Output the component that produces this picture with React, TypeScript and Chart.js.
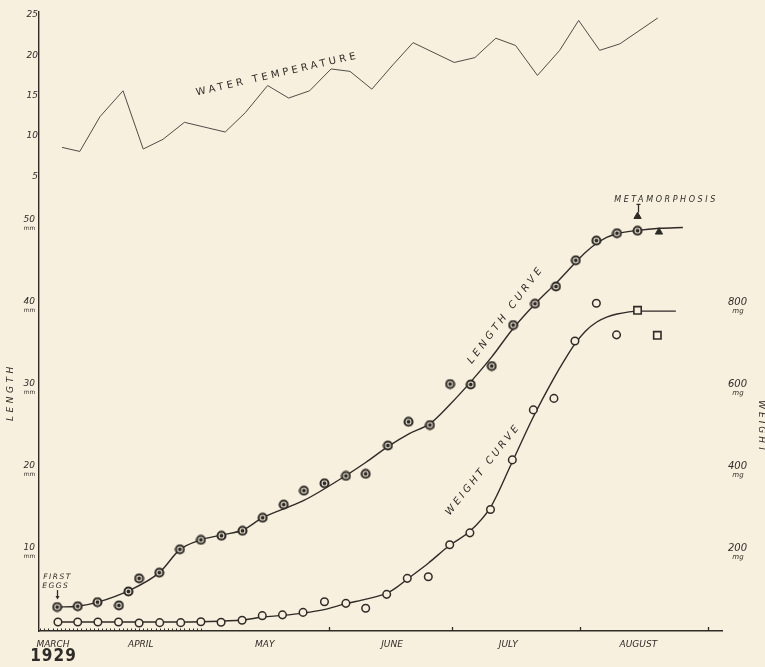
import React, { useEffect, useRef } from 'react';
import { Chart, registerables } from 'chart.js';

Chart.register(...registerables);

const BG = '#f8f0df';
const INK = '#2f2b27';
const TEMP_INK = '#514c47';

// x values are day-of-year 1929 (Apr 1 = 91, May 1 = 121, Jun 1 = 152 ...)
const X_MIN = 81.7;
const X_MAX = 247.5;
const MONTH_LABELS = ['MARCH', 'APRIL', 'MAY', 'JUNE', 'JULY', 'AUGUST'];
const MONTH_LABEL_DAYS = [85.1, 106.4, 136.5, 167.4, 195.6, 227.2];
const MONTH_TICK_DAYS = [152, 182, 213, 244];
const DAY_TICK_FIRST = 82;
const DAY_TICK_LAST = 121;

// axis ranges
const TEMP_MIN = -51.19;
const TEMP_MAX = 25.34;
const LENGTH_MIN = -0.12;
const LENGTH_MAX = 75.38;
const WEIGHT_MIN = -2.4;
const WEIGHT_MAX = 1507.6;

const TEMP_TICKS = [5, 10, 15, 20, 25];
const LENGTH_TICKS = [10, 20, 30, 40, 50];
const WEIGHT_TICKS = [200, 400, 600, 800];

// water temperature (°C)
const TEMP_DAYS = [87.3, 91.6, 96.5, 102.1, 107.0, 111.8, 117.0, 126.9, 131.8, 137.2, 142.3, 147.4, 152.6, 157.2, 162.5, 167.6, 172.5, 182.5, 187.5, 192.6, 197.4, 202.7, 208.1, 212.7, 217.8, 222.7, 231.9];
const TEMP_VALUES = [8.6, 8.1, 12.4, 15.6, 8.4, 9.6, 11.7, 10.5, 12.9, 16.25, 14.7, 15.6, 18.3, 18.0, 15.8, 18.8, 21.55, 19.1, 19.7, 22.1, 21.2, 17.5, 20.6, 24.3, 20.6, 21.4, 24.6];

// length observations (mm)
const LENGTH_DAYS = [86.1, 91.1, 95.9, 101.1, 103.4, 106.0, 110.9, 115.9, 121.0, 126.0, 131.1, 136.0, 141.1, 146.0, 151.0, 156.2, 161.0, 166.4, 171.4, 176.6, 181.5, 186.5, 191.6, 196.8, 202.1, 207.2, 212.0, 217.0, 222.0, 227.0];
const LENGTH_VALUES = [2.8, 2.9, 3.4, 3.0, 4.7, 6.3, 7.0, 9.85, 11.0, 11.5, 12.1, 13.7, 15.3, 17.0, 17.9, 18.8, 19.05, 22.5, 25.4, 25.0, 30.0, 29.95, 32.2, 37.2, 39.8, 41.9, 45.1, 47.5, 48.4, 48.7];

// weight observations (mg)
const WEIGHT_DAYS = [86.3, 91.1, 96.0, 101.0, 106.0, 111.0, 116.1, 121.0, 125.9, 131.0, 135.9, 140.8, 145.8, 151.0, 156.2, 161.0, 166.1, 171.1, 176.2, 181.4, 186.3, 191.3, 196.6, 201.7, 206.7, 211.8, 217.0, 221.9];
const WEIGHT_VALUES = [19.5, 19.5, 19.5, 19.5, 17, 18, 18, 20, 19, 24, 35, 37, 43, 69, 65, 53, 87, 126, 130, 208, 237, 294, 415, 537, 565, 705, 797, 720];

// weight (square markers)
const SQUARE_DAYS = [227.0, 231.8];
const SQUARE_VALUES = [780, 719];

// metamorphosis triangles (length axis)
const TRIANGLE_DAYS = [227.0, 232.2];
const TRIANGLE_VALUES = [50.45, 48.55];

// fitted curves
const LENGTH_CURVE_DAYS = [86.0, 91.1, 96.0, 103.5, 110.9, 115.9, 121.0, 126.1, 131.2, 136.0, 146.0, 156.2, 161.0, 166.4, 171.6, 176.6, 181.4, 186.5, 191.6, 196.7, 202.1, 207.2, 212.0, 214.4, 217.1, 219.5, 222.0, 227.1, 232.4, 238.0];
const LENGTH_CURVE_VALUES = [2.8, 2.9, 3.4, 4.8, 7.0, 9.8, 11.0, 11.6, 12.2, 13.7, 15.8, 18.84, 20.43, 22.37, 23.95, 25.17, 27.48, 30.27, 33.31, 36.72, 39.76, 42.31, 44.86, 46.08, 47.17, 47.9, 48.33, 48.75, 49.0, 49.1];

const WEIGHT_CURVE_DAYS = [86.0, 96.0, 106.0, 116.0, 121.0, 131.0, 136.0, 140.9, 145.8, 150.9, 156.2, 161.1, 166.2, 168.6, 171.1, 176.2, 181.4, 186.3, 191.3, 196.4, 201.6, 206.6, 209.3, 211.8, 214.4, 217.1, 219.5, 222.0, 227.1, 236.3];
const WEIGHT_CURVE_VALUES = [19.5, 19.5, 19.5, 19.5, 20.2, 24.3, 31.6, 35.7, 41.3, 49.8, 64.4, 75.4, 90, 104.6, 124, 163, 206.7, 240.7, 299.1, 406.1, 517.9, 612.8, 659, 698, 729.5, 751.4, 763.5, 770.8, 778, 778];

const FONT = '"DejaVu Sans", sans-serif';

function pts(xs: number[], ys: number[]) {
  return xs.map((x, i) => ({ x, y: ys[i] }));
}

function drawText(ctx: any, text: string, px: number, py: number, o: any = {}) {
  ctx.save();
  ctx.translate(px, py);
  if (o.angle) ctx.rotate((o.angle * Math.PI) / 180);
  ctx.font = o.font || `italic 9px ${FONT}`;
  const sp = o.spacing || 0;
  ctx.letterSpacing = sp + 'px';
  ctx.fillStyle = o.color || INK;
  ctx.textAlign = o.align || 'center';
  ctx.textBaseline = 'middle';
  const shift = (o.align || 'center') === 'center' ? sp / 2 : 0;
  ctx.fillText(text, shift, 0);
  ctx.restore();
}

function makeBullseye(): HTMLCanvasElement {
  const c = document.createElement('canvas');
  c.width = 11;
  c.height = 11;
  const g = c.getContext('2d') as CanvasRenderingContext2D;
  g.beginPath();
  g.arc(5.5, 5.5, 4.0, 0, Math.PI * 2);
  g.fillStyle = BG;
  g.fill();
  g.lineWidth = 2.1;
  g.strokeStyle = INK;
  g.stroke();
  g.beginPath();
  g.arc(5.5, 5.5, 1.9, 0, Math.PI * 2);
  g.fillStyle = INK;
  g.fill();
  return c;
}

const decorPlugin = {
  id: 'decor',
  beforeDraw(chart: any) {
    const { ctx, width, height } = chart;
    ctx.save();
    ctx.fillStyle = BG;
    ctx.fillRect(0, 0, width, height);
    ctx.restore();
  },
  afterDraw(chart: any) {
    const { ctx, chartArea } = chart;
    const { x, yT, yL, yW } = chart.scales;
    const base = chartArea.bottom;
    ctx.save();
    ctx.strokeStyle = INK;
    ctx.fillStyle = INK;
    ctx.lineWidth = 1;
    // daily tick marks (March–April) and month boundary ticks
    for (let d = DAY_TICK_FIRST; d <= DAY_TICK_LAST; d += 1) {
      const px = Math.round(x.getPixelForValue(d)) + 0.5;
      ctx.beginPath();
      ctx.moveTo(px, base);
      ctx.lineTo(px, base - 2.5);
      ctx.stroke();
    }
    ctx.lineWidth = 1.3;
    for (const d of MONTH_TICK_DAYS) {
      const px = Math.round(x.getPixelForValue(d)) + 0.5;
      ctx.beginPath();
      ctx.moveTo(px, base);
      ctx.lineTo(px, base - 4);
      ctx.stroke();
    }
    // temperature scale labels
    for (const v of TEMP_TICKS) {
      drawText(ctx, String(v), 38, yT.getPixelForValue(v), { font: `italic 9px ${FONT}`, align: 'right' });
    }
    // unit labels
    for (const v of LENGTH_TICKS) {
      drawText(ctx, 'mm', 29.5, yL.getPixelForValue(v) + 8.5, { font: `6px ${FONT}` });
    }
    for (const v of WEIGHT_TICKS) {
      drawText(ctx, 'mg', 738, yW.getPixelForValue(v) + 9.5, { font: `italic 7px ${FONT}` });
    }
    // axis titles
    drawText(ctx, 'LENGTH', 11, yL.getPixelForValue(28.8), { angle: -90, font: `italic 9px ${FONT}`, spacing: 3.5 });
    drawText(ctx, 'WEIGHT', 761, yW.getPixelForValue(498), { angle: 90, font: `italic 9px ${FONT}`, spacing: 3 });
    // captions
    drawText(ctx, 'WATER TEMPERATURE', x.getPixelForValue(139.2), yT.getPixelForValue(17.6), { angle: -13, font: `10px ${FONT}`, spacing: 3.3 });
    drawText(ctx, 'LENGTH CURVE', x.getPixelForValue(194.8), yL.getPixelForValue(38.3), { angle: -53, font: `italic 10px ${FONT}`, spacing: 3.5 });
    drawText(ctx, 'WEIGHT CURVE', x.getPixelForValue(189.3), yW.getPixelForValue(389), { angle: -51.5, font: `italic 10px ${FONT}`, spacing: 3 });
    drawText(ctx, 'METAMORPHOSIS', x.getPixelForValue(233.6), yL.getPixelForValue(52.4), { font: `italic 8px ${FONT}`, spacing: 2.6 });
    drawText(ctx, 'FIRST', x.getPixelForValue(86.0), yL.getPixelForValue(6.45), { font: `italic 7.5px ${FONT}`, spacing: 1.5 });
    drawText(ctx, 'EGGS', x.getPixelForValue(85.6), yL.getPixelForValue(5.35), { font: `italic 7.5px ${FONT}`, spacing: 1.5 });
    drawText(ctx, '1929', x.getPixelForValue(85.1), base + 26, { font: `bold 17px "Liberation Sans Narrow", "DejaVu Sans Condensed", sans-serif`, spacing: 1 });
    // FIRST EGGS arrow
    const ax = Math.round(x.getPixelForValue(LENGTH_DAYS[0])) + 0.5;
    const ay = yL.getPixelForValue(LENGTH_VALUES[0]);
    ctx.lineWidth = 1.3;
    ctx.beginPath();
    ctx.moveTo(ax, ay - 17);
    ctx.lineTo(ax, ay - 10);
    ctx.stroke();
    ctx.beginPath();
    ctx.moveTo(ax - 2, ay - 11);
    ctx.lineTo(ax + 2, ay - 11);
    ctx.lineTo(ax, ay - 7.5);
    ctx.closePath();
    ctx.fill();
    // metamorphosis pointer
    const mx = Math.round(x.getPixelForValue(TRIANGLE_DAYS[0])) + 0.5;
    const my = yL.getPixelForValue(TRIANGLE_VALUES[0]);
    ctx.beginPath();
    ctx.moveTo(mx, my - 12);
    ctx.lineTo(mx, my - 4);
    ctx.moveTo(mx - 2, my - 12);
    ctx.lineTo(mx + 2, my - 12);
    ctx.stroke();
    ctx.restore();
  },
};

export default function App() {
  const ref = useRef<HTMLCanvasElement>(null);
  useEffect(() => {
    const canvas = ref.current;
    if (!canvas) return;
    const bullseye = makeBullseye();
    const tickFont = { family: '"DejaVu Sans", sans-serif', size: 9, style: 'italic' as const };
    const chart = new Chart(canvas, {
      type: 'line',
      data: {
        datasets: [
          {
            label: 'Length',
            data: pts(LENGTH_DAYS, LENGTH_VALUES),
            yAxisID: 'yL',
            showLine: false,
            pointStyle: bullseye as any,
            pointRadius: 4.5,
            order: 0,
          },
          {
            label: 'Weight',
            data: pts(WEIGHT_DAYS, WEIGHT_VALUES),
            yAxisID: 'yW',
            showLine: false,
            pointStyle: 'circle',
            pointRadius: 3.8,
            pointBorderWidth: 1.5,
            pointBorderColor: INK,
            pointBackgroundColor: BG,
            order: 0,
          },
          {
            label: 'Weight (square)',
            data: pts(SQUARE_DAYS, SQUARE_VALUES),
            yAxisID: 'yW',
            showLine: false,
            pointStyle: 'rect',
            pointRadius: 5.2,
            pointBorderWidth: 1.6,
            pointBorderColor: INK,
            pointBackgroundColor: BG,
            order: 0,
          },
          {
            label: 'Metamorphosis',
            data: pts(TRIANGLE_DAYS, TRIANGLE_VALUES),
            yAxisID: 'yL',
            showLine: false,
            pointStyle: 'triangle',
            pointRadius: 4.2,
            pointBorderWidth: 1,
            pointBorderColor: INK,
            pointBackgroundColor: INK,
            order: 0,
          },
          {
            label: 'Length curve',
            data: pts(LENGTH_CURVE_DAYS, LENGTH_CURVE_VALUES),
            yAxisID: 'yL',
            pointRadius: 0,
            borderColor: INK,
            borderWidth: 1.4,
            cubicInterpolationMode: 'monotone',
            order: 1,
          },
          {
            label: 'Weight curve',
            data: pts(WEIGHT_CURVE_DAYS, WEIGHT_CURVE_VALUES),
            yAxisID: 'yW',
            pointRadius: 0,
            borderColor: INK,
            borderWidth: 1.4,
            cubicInterpolationMode: 'monotone',
            order: 1,
          },
          {
            label: 'Water temperature',
            data: pts(TEMP_DAYS, TEMP_VALUES),
            yAxisID: 'yT',
            pointRadius: 0,
            borderColor: TEMP_INK,
            borderWidth: 1.0,
            tension: 0,
            order: 1,
          },
        ],
      },
      options: {
        responsive: false,
        animation: false,
        events: [],
        layout: { padding: { top: 10, left: 0, right: 0, bottom: 0 } },
        plugins: {
          legend: { display: false },
          tooltip: { enabled: false },
          title: { display: false },
        },
        scales: {
          x: {
            type: 'linear',
            min: X_MIN,
            max: X_MAX,
            position: 'bottom',
            afterBuildTicks: (s: any) => {
              s.ticks = MONTH_LABEL_DAYS.map((v) => ({ value: v }));
            },
            afterFit: (s: any) => {
              s.height = 36;
            },
            grid: { display: false, drawTicks: false },
            border: { display: true, color: INK, width: 1.4 },
            ticks: {
              autoSkip: false,
              maxRotation: 0,
              minRotation: 0,
              padding: 8,
              color: INK,
              font: tickFont,
              callback: (_v: any, i: number) => MONTH_LABELS[i],
            },
          },
          yL: {
            type: 'linear',
            position: 'left',
            weight: 1,
            min: LENGTH_MIN,
            max: LENGTH_MAX,
            afterBuildTicks: (s: any) => {
              s.ticks = LENGTH_TICKS.map((v) => ({ value: v }));
            },
            afterFit: (s: any) => {
              s.width = 39;
            },
            grid: { display: false, drawTicks: false },
            border: { display: true, color: INK, width: 1.4 },
            ticks: { padding: 4, color: INK, font: tickFont, callback: (v: any) => String(v) },
          },
          yT: {
            type: 'linear',
            position: 'left',
            display: false,
            min: TEMP_MIN,
            max: TEMP_MAX,
          },
          yW: {
            type: 'linear',
            position: 'right',
            min: WEIGHT_MIN,
            max: WEIGHT_MAX,
            afterBuildTicks: (s: any) => {
              s.ticks = WEIGHT_TICKS.map((v) => ({ value: v }));
            },
            afterFit: (s: any) => {
              s.width = 43;
            },
            grid: { display: false, drawTicks: false },
            border: { display: false },
            ticks: { padding: 6, color: INK, font: { ...tickFont, size: 10 }, callback: (v: any) => String(v) },
          },
        },
      } as any,
      plugins: [decorPlugin],
    });
    return () => chart.destroy();
  }, []);
  return (
    <div style={{ position: 'fixed', left: 0, top: 0, width: 765, height: 667, background: BG }}>
      <canvas ref={ref} width={765} height={667} style={{ display: 'block', width: 765, height: 667 }} />
    </div>
  );
}
